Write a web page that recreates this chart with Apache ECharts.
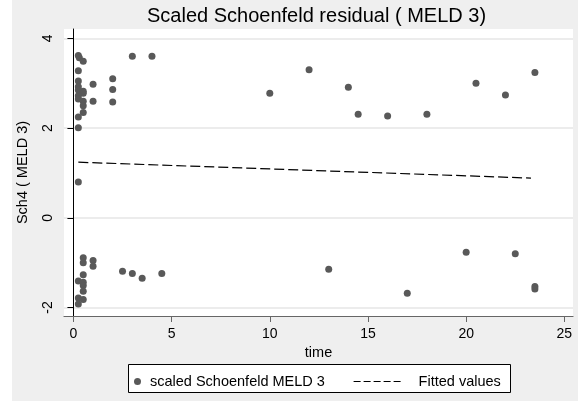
<!DOCTYPE html>
<html>
<head>
<meta charset="utf-8">
<script src="https://cdn.jsdelivr.net/npm/echarts@6/dist/echarts.min.js"></script>
<style>
  html, body { margin: 0; padding: 0; background: #fff; }
  #schCharts {
    width: 578px;
    height: 401px;
    background: linear-gradient(to right, #ffffff 12px, #efefef 12px);
  }
</style>
</head>
<body>
<div id="schCharts"></div>
<script>
// x ticks / y ticks
const xTicks = [0, 5, 10, 15, 20, 25]
const yTicks = [-2, 0, 2, 4]

// scaled Schoenfeld residuals (time, value)
const timeVals = [
  0.25, 0.3, 0.5, 0.25, 0.25, 0.25, 0.25, 0.5, 0.5, 0.25, 0.25, 0.5, 0.5, 0.5, 0.25, 0.25, 0.25,
  1.0, 1.0, 2.0, 2.0, 2.0, 3.0, 4.0,
  10.0, 12.0, 14.0, 14.5, 16.0, 18.0, 20.5, 22.0, 23.5,
  0.5, 0.5, 1.0, 1.0, 0.5, 0.25, 0.5, 0.5, 0.5, 0.25, 0.5, 0.25,
  2.5, 3.0, 3.5, 4.5,
  13.0, 17.0, 20.0, 22.5, 23.5, 23.5
]
const schVals = [
  3.62, 3.57, 3.49, 3.28, 3.05, 2.92, 2.85, 2.82, 2.78, 2.72, 2.65, 2.60, 2.50, 2.35, 2.25, 2.01, 0.80,
  2.98, 2.60, 3.10, 2.86, 2.58, 3.60, 3.60,
  2.78, 3.30, 2.91, 2.31, 2.27, 2.31, 3.00, 2.74, 3.24,
  -0.89, -1.00, -0.95, -1.08, -1.27, -1.41, -1.44, -1.51, -1.64, -1.79, -1.82, -1.92,
  -1.19, -1.24, -1.35, -1.24,
  -1.15, -1.68, -0.77, -0.80, -1.53, -1.59
]

// fitted values (ends of the line)
const fitTime = [0.25, 23.3]
const fitVals = [1.24, 0.885]

const font = 'Liberation Sans, Arial, sans-serif'

const myChart = echarts.init(document.getElementById('schCharts'))

let options = {
  animation: false,
  title: {
    text: 'Scaled Schoenfeld residual ( MELD 3)',
    left: 147,
    top: 6,
    padding: 0,
    textStyle: { fontFamily: font, fontSize: 20, fontWeight: 'normal', color: '#000' }
  },
  grid: {
    left: 64,
    right: 5,
    top: 29,
    bottom: 85,
    backgroundColor: '#fff',
    show: true,
    borderWidth: 0
  },
  xAxis: {
    type: 'value',
    min: -0.48,
    max: 25.44,
    name: 'time',
    nameLocation: 'middle',
    nameGap: 24,
    nameTextStyle: { fontFamily: font, fontSize: 14.5, color: '#000' },
    axisLine: { onZero: false, lineStyle: { color: '#666', width: 1.2 } },
    axisTick: { customValues: xTicks, length: 6, lineStyle: { color: '#666' } },
    axisLabel: { customValues: xTicks, fontFamily: font, fontSize: 14, color: '#000', margin: 11 },
    splitLine: { show: false }
  },
  yAxis: {
    type: 'value',
    min: -2.19,
    max: 4.21,
    name: 'Sch4 ( MELD 3)',
    nameLocation: 'middle',
    nameRotate: 90,
    nameGap: 34,
    nameTextStyle: { fontFamily: font, fontSize: 14.5, color: '#000' },
    axisLine: { show: true, lineStyle: { color: '#000', width: 1 } },
    axisTick: { show: true, customValues: yTicks, length: 6, lineStyle: { color: '#000' } },
    axisLabel: { customValues: yTicks, rotate: 90, fontFamily: font, fontSize: 14, color: '#000', margin: 9 },
    splitLine: { show: true, lineStyle: { color: '#e6e6e6', width: 1.5 } }
  },
  legend: [
    {
      data: [{ name: 'scaled Schoenfeld MELD 3', icon: 'circle' }],
      left: 134,
      top: 374,
      padding: 0,
      itemWidth: 7,
      itemHeight: 7,
      textStyle: { fontFamily: font, fontSize: 14.5, color: '#000', padding: [0, 0, 0, 4] },
      z: 10
    },
    {
      data: [{ name: 'Fitted values' }],
      left: 353,
      top: 374,
      padding: 0,
      itemWidth: 47,
      itemHeight: 7,
      itemStyle: { opacity: 0 },
      lineStyle: { type: [7, 3], width: 1.2, color: '#000' },
      textStyle: { fontFamily: font, fontSize: 14.5, color: '#000', padding: [0, 0, 0, 13] },
      z: 10
    }
  ],
  graphic: [
    {
      type: 'rect',
      z: 1,
      shape: { x: 128.5, y: 364.5, width: 382, height: 28 },
      style: { fill: '#fff', stroke: '#000', lineWidth: 1 }
    }
  ],
  series: [
    {
      name: 'scaled Schoenfeld MELD 3',
      type: 'scatter',
      symbol: 'circle',
      symbolSize: 7,
      itemStyle: { color: '#595959', opacity: 1 },
      data: timeVals.map((t, i) => [t, schVals[i]])
    },
    {
      name: 'Fitted values',
      type: 'line',
      showSymbol: false,
      symbol: 'none',
      itemStyle: { color: '#000' },
      lineStyle: { color: '#000', width: 1.2, type: [10, 4] },
      data: fitTime.map((t, i) => [t, fitVals[i]])
    }
  ]
}

myChart.setOption(options)
</script>
</body>
</html>
